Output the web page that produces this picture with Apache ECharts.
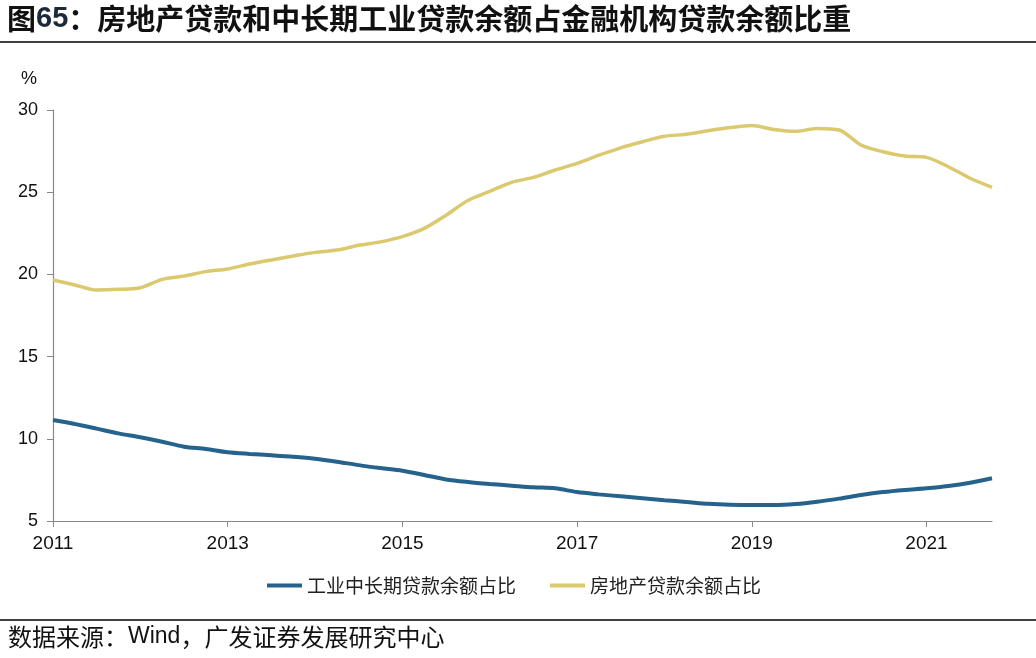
<!DOCTYPE html>
<html>
<head>
<meta charset="utf-8">
<script src="https://cdn.jsdelivr.net/npm/echarts@6/dist/echarts.min.js"></script>
<style>
html,body{margin:0;padding:0;background:#fff;}
#c{width:1036px;height:658px;}
</style>
</head>
<body>
<div id="c"></div>
<script>
var quarters = [
 '2011Q1','2011Q2','2011Q3','2011Q4','2012Q1','2012Q2','2012Q3','2012Q4',
 '2013Q1','2013Q2','2013Q3','2013Q4','2014Q1','2014Q2','2014Q3','2014Q4',
 '2015Q1','2015Q2','2015Q3','2015Q4','2016Q1','2016Q2','2016Q3','2016Q4',
 '2017Q1','2017Q2','2017Q3','2017Q4','2018Q1','2018Q2','2018Q3','2018Q4',
 '2019Q1','2019Q2','2019Q3','2019Q4','2020Q1','2020Q2','2020Q3','2020Q4',
 '2021Q1','2021Q2','2021Q3','2021Q4'
];
var industrialShare = [
 11.14,10.90,10.62,10.33,10.09,9.82,9.52,9.38,
 9.18,9.08,9.00,8.91,8.79,8.61,8.40,8.22,
 8.06,7.80,7.53,7.37,7.25,7.15,7.05,6.99,
 6.76,6.62,6.50,6.38,6.26,6.16,6.05,5.99,
 5.97,5.97,6.03,6.17,6.36,6.58,6.76,6.89,
 6.99,7.13,7.33,7.60
];
var realEstateShare = [
 19.66,19.36,19.05,19.09,19.19,19.70,19.90,20.17,
 20.33,20.63,20.88,21.12,21.34,21.48,21.77,21.98,
 22.30,22.80,23.60,24.50,25.05,25.60,25.90,26.35,
 26.75,27.25,27.70,28.07,28.40,28.52,28.74,28.93,
 29.05,28.82,28.70,28.88,28.78,27.87,27.46,27.20,
 27.12,26.55,25.85,25.30
];
var seriesNames = ['工业中长期贷款余额占比','房地产贷款余额占比'];
var yTicks = {min:5, max:30, interval:5};

var chart = echarts.init(document.getElementById('c'));
var cjk = '"Noto Sans CJK SC", sans-serif';
var latin = '"Liberation Sans", Arial, sans-serif';
chart.setOption({
  backgroundColor:'#fff',
  animation:false,
  grid:{left:53,right:44,top:110,bottom:137},
  graphic:[
    {type:'text',left:7,top:4,style:{
      text:'{a|图}{b|65}{a|：房地产贷款和中长期工业贷款余额占金融机构贷款余额比重}',
      rich:{
        a:{fontFamily:cjk,fontWeight:'bold',fontSize:29,fill:'#111'},
        b:{fontFamily:latin,fontWeight:'bold',fontSize:29,fill:'#1a2a3a'}
      }
    }},
    {type:'line',shape:{x1:0,y1:42,x2:1036,y2:42},style:{stroke:'#000',lineWidth:1.5}},
    {type:'line',shape:{x1:0,y1:620,x2:1036,y2:620},style:{stroke:'#000',lineWidth:1.5}},
    {type:'text',left:8,top:625,style:{
      text:'{a|数据来源：}{b|Wind}{a|，广发证券发展研究中心}',
      rich:{
        a:{fontFamily:cjk,fontSize:24,fill:'#111'},
        b:{fontFamily:latin,fontSize:23,fill:'#111'}
      }
    }},
    {type:'text',left:21,top:70,style:{text:'%',fontFamily:latin,fontSize:18,fill:'#111'}}
  ],
  legend:{
    data:seriesNames,
    left:262,
    top:571,
    itemWidth:35,
    itemHeight:4,
    itemGap:34,
    icon:'rect',
    textStyle:{fontFamily:cjk,fontSize:19,color:'#222'}
  },
  xAxis:{
    type:'category',
    data:quarters,
    boundaryGap:false,
    axisLine:{lineStyle:{color:'#888',width:1.2}},
    axisTick:{interval:7,length:6,lineStyle:{color:'#888'}},
    axisLabel:{interval:7,margin:13,fontFamily:latin,fontSize:19,color:'#111',
      formatter:function(v){return v.slice(0,4);}},
    splitLine:{show:false}
  },
  yAxis:{
    type:'value',
    min:yTicks.min,max:yTicks.max,interval:yTicks.interval,
    axisLine:{show:true,lineStyle:{color:'#888',width:1.2}},
    axisTick:{show:true,length:6,lineStyle:{color:'#888'}},
    axisLabel:{margin:15,fontFamily:latin,fontSize:18,color:'#111'},
    splitLine:{show:false}
  },
  series:[
    {name:seriesNames[0],type:'line',data:industrialShare,showSymbol:false,smooth:0.3,
      lineStyle:{color:'#25638c',width:4},itemStyle:{color:'#25638c'}},
    {name:seriesNames[1],type:'line',data:realEstateShare,showSymbol:false,smooth:0.3,
      lineStyle:{color:'#dac96f',width:3.5},itemStyle:{color:'#dac96f'}}
  ]
});
</script>
</body>
</html>
